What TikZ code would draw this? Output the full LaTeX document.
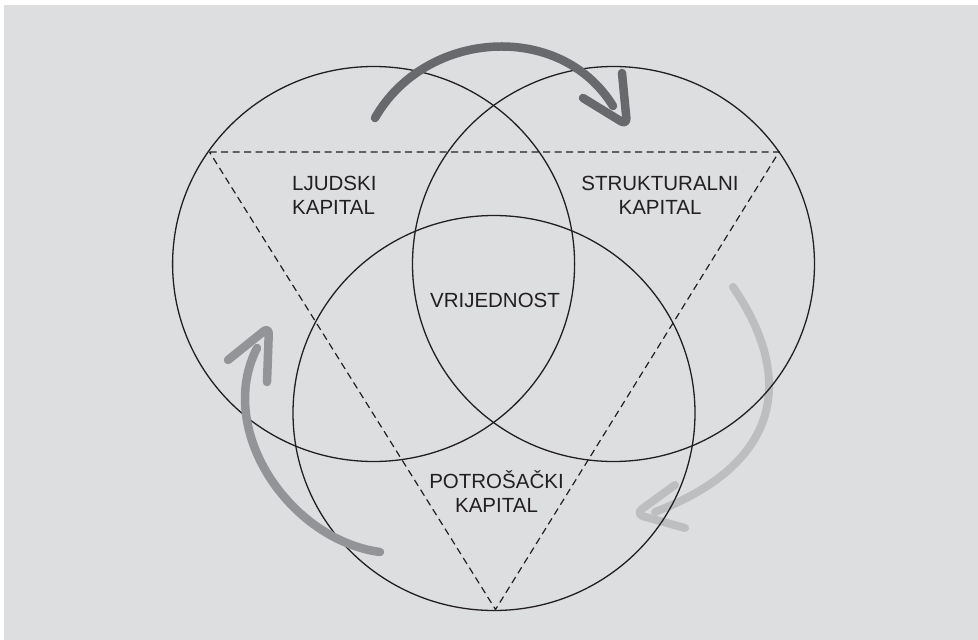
\documentclass[tikz,border=0pt]{standalone}
\usepackage{fontspec}
\setmainfont{Liberation Sans}
\usetikzlibrary{shapes.geometric}
\definecolor{bg}{RGB}{221,222,224}
\definecolor{ink}{RGB}{35,31,32}
\definecolor{arrA}{RGB}{104,105,109}
\definecolor{arrB}{RGB}{147,148,152}
\definecolor{arrC}{RGB}{189,190,192}
\begin{document}
\begin{tikzpicture}[x=1pt,y=-1pt,
  ring/.style={draw=ink,line width=1.3pt,ellipse,minimum width=402pt,minimum height=395pt,inner sep=0pt},
  tri/.style={draw=ink,line width=1.2pt,dash pattern=on 7pt off 4.5pt},
  lbl/.style={text=ink,font=\fontsize{20.5}{24}\selectfont,inner sep=0pt},
  flow/.style={line width=8.5pt,line cap=round,line join=round}]
\useasboundingbox (0,0) rectangle (978,640);
\fill[bg] (4,5) rectangle (978,640);

% light arrow (below the circles)
\coordinate (c0) at (733,287);
\coordinate (c1) at (655,512);
\coordinate (ch1) at (675,485);
\coordinate (ch2) at (635,514);
\coordinate (ch3) at (685,528);
\draw[flow,arrC,line width=8pt] (c0) .. controls (790,370) and (790,460) .. (c1);
\draw[flow,arrC,line width=8pt,rounded corners=9pt] (ch1) -- (ch2) -- (ch3);

% circles
\node[ring] (human) at (373.6,264) {};
\node[ring] (struct) at (613.5,264) {};
\node[ring] (consumer) at (494,413) {};

% triangle
\coordinate (tl) at (209.5,152);
\coordinate (tr) at (779,152);
\coordinate (bt) at (495.5,609.5);
\draw[tri] (tl) -- (tr) -- (bt) -- cycle;

% labels
\node[lbl,anchor=base west] (lj) at (292,190) {\begin{tabular}[t]{@{}l@{}}LJUDSKI\\KAPITAL\end{tabular}};
\node[lbl,anchor=base] (st) at (660,190) {\begin{tabular}[t]{@{}c@{}}STRUKTURALNI\\KAPITAL\end{tabular}};
\node[lbl,anchor=base] (vr) at (495,307) {VRIJEDNOST};
\node[lbl,anchor=base] (po) at (496.5,488) {\begin{tabular}[t]{@{}c@{}}POTROŠAČKI\\KAPITAL\end{tabular}};

% dark arrow (top)
\coordinate (a0) at (375,118);
\coordinate (a1) at (613,106);
\coordinate (ah1) at (583,98);
\coordinate (ah2) at (627,125);
\coordinate (ah3) at (622,73);
\draw[flow,arrA] (a0) .. controls (425,30) and (560,20) .. (a1);
\draw[flow,arrA,rounded corners=7pt] (ah1) -- (ah2) -- (ah3);

% medium arrow (left)
\coordinate (b0) at (380,552);
\coordinate (b1) at (257,348);
\coordinate (bh1) at (228,360);
\coordinate (bh2) at (269,327);
\coordinate (bh3) at (267,382);
\draw[flow,arrB] (b0) .. controls (290,540) and (215,430) .. (b1);
\draw[flow,arrB,rounded corners=7pt] (bh1) -- (bh2) -- (bh3);
\end{tikzpicture}
\end{document}
